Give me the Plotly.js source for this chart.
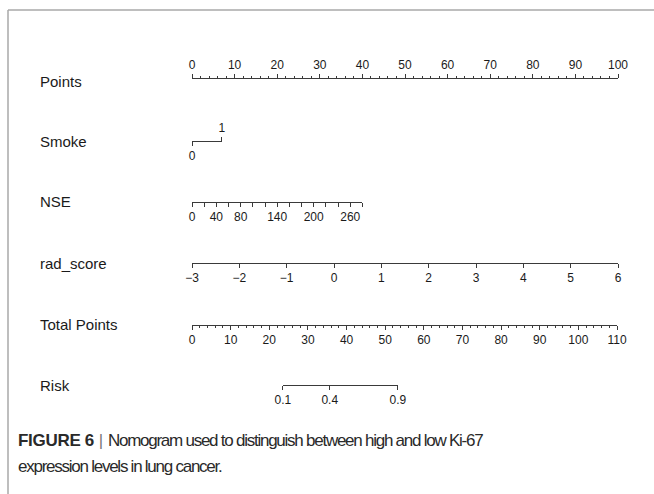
<!DOCTYPE html>
<html>
<head>
<meta charset="utf-8">
<script src="https://cdn.plot.ly/plotly-3.0.1.min.js"></script>
<style>html,body{margin:0;padding:0;background:#fff;}#chart{width:654px;height:494px;}</style>
</head>
<body>
<div id="chart"></div>
<script>
// ---- data ----
const rowLabels = ['Points', 'Smoke', 'NSE', 'rad_score', 'Total Points', 'Risk'];
const pointsRange = [0, 100];
const smokeLevels = [0, 1];
const smokePoints = [0, 7];            // points for smoke 0 and 1
const nseValues = [0, 20, 40, 60, 80, 100, 120, 140, 160, 180, 200, 220, 240, 260, 280];
const nseLabels = ['0', '', '40', '', '80', '', '', '140', '', '', '200', '', '', '260', ''];
const nsePoints = [0, 40];             // points for NSE 0 and 280
const radValues = [-3, -2, -1, 0, 1, 2, 3, 4, 5, 6];
const radPoints = [0, 100];            // points for rad_score -3 and 6
const totalRange = [0, 110];
const riskProbs = [0.1, 0.4, 0.9];
const riskTotal = [23.5, 53.3];        // total points at risk 0.1 and 0.9

// ---- layout constants ----
const W = 654, H = 494;
const axL = 192, axR = 618, totR = 617;
const rowY = [78, 141, 201.5, 263, 324.5, 385];
const labelX = 38;
const lineCol = '#3a3a3a';
const txtCol = '#1a1a1a';
const font = 'Liberation Sans, Arial, Helvetica, sans-serif';

const ppx = (axR - axL) / (pointsRange[1] - pointsRange[0]);
const dom = (p0, p1) => [(axL + p0 * ppx) / W, (axL + p1 * ppx) / W];
const tpx = (totR - axL) / (totalRange[1] - totalRange[0]);
const tdom = (t0, t1) => [(axL + t0 * tpx) / W, (axL + t1 * tpx) / W];
const pos = y => 1 - y / H;
const logit = p => Math.log(p / (1 - p));

const base = {
  anchor: 'free', showline: true, linecolor: lineCol, linewidth: 1,
  ticks: 'outside', ticklen: 4, tickwidth: 1, tickcolor: lineCol,
  showgrid: false, zeroline: false, fixedrange: true,
  tickfont: {family: font, size: 12, color: txtCol}
};

const layout = {
  width: W, height: H,
  margin: {l: 0, r: 0, t: 0, b: 0},
  paper_bgcolor: '#fff', plot_bgcolor: 'rgba(0,0,0,0)',
  showlegend: false,
  yaxis: {range: [0, 1], domain: [0, 1], visible: false, fixedrange: true},
  xaxis: Object.assign({}, base, {
    domain: dom(pointsRange[0], pointsRange[1]), range: pointsRange, position: pos(rowY[0]),
    side: 'top', tickmode: 'linear', tick0: 0, dtick: 10,
    minor: {dtick: 2, ticklen: 2, ticks: 'outside', tickcolor: lineCol}
  }),
  xaxis2: Object.assign({}, base, {
    domain: dom(smokePoints[0], smokePoints[1]), range: smokeLevels, position: pos(rowY[1]),
    side: 'bottom', tickmode: 'array', tickvals: [smokeLevels[0]], ticktext: [String(smokeLevels[0])]
  }),
  xaxis3: Object.assign({}, base, {
    domain: dom(smokePoints[0], smokePoints[1]), range: smokeLevels, position: pos(rowY[1]),
    side: 'top', tickmode: 'array', tickvals: [smokeLevels[1]], ticktext: [String(smokeLevels[1])]
  }),
  xaxis4: Object.assign({}, base, {
    domain: dom(nsePoints[0], nsePoints[1]), range: [nseValues[0], nseValues[nseValues.length - 1]],
    position: pos(rowY[2]), side: 'bottom', tickmode: 'array', tickvals: nseValues, ticktext: nseLabels
  }),
  xaxis5: Object.assign({}, base, {
    domain: dom(radPoints[0], radPoints[1]), range: [radValues[0], radValues[radValues.length - 1]],
    position: pos(rowY[3]), side: 'bottom', tickmode: 'array', tickvals: radValues
  }),
  xaxis6: Object.assign({}, base, {
    domain: tdom(totalRange[0], totalRange[1]), range: totalRange, position: pos(rowY[4]),
    side: 'bottom', tickmode: 'linear', tick0: 0, dtick: 10,
    minor: {dtick: 2, ticklen: 2, ticks: 'outside', tickcolor: lineCol}
  }),
  xaxis7: Object.assign({}, base, {
    domain: tdom(riskTotal[0], riskTotal[1]),
    range: [logit(riskProbs[0]), logit(riskProbs[riskProbs.length - 1])],
    position: pos(rowY[5]), side: 'bottom', tickmode: 'array',
    tickvals: riskProbs.map(logit), ticktext: riskProbs.map(String)
  }),
  annotations: [],
  shapes: [
    {type: 'line', xref: 'paper', yref: 'paper', x0: 8 / W, x1: 1, y0: pos(10), y1: pos(10),
     line: {color: '#a8a8a8', width: 1.5}},
    {type: 'line', xref: 'paper', yref: 'paper', x0: 8 / W, x1: 8 / W, y0: pos(10), y1: 0,
     line: {color: '#a8a8a8', width: 1.5}}
  ]
};

rowLabels.forEach((t, i) => {
  layout.annotations.push({
    text: t, xref: 'paper', yref: 'paper', x: labelX / W, y: pos(rowY[i] + (i === 0 ? 3 : 0)),
    xanchor: 'left', yanchor: 'middle', showarrow: false,
    font: {family: font, size: 15, color: txtCol}
  });
});

const capFont = 'Liberation Sans Narrow, Arial Narrow, Liberation Sans, sans-serif';
const sp = 'letter-spacing:-1.25px';
layout.annotations.push({
  text: '<span style="letter-spacing:-0.3px"><b>FIGURE 6</b></span> <span style="color:#777">|</span> <span style="' + sp + '">Nomogram used to distinguish between high and low Ki-67</span>',
  xref: 'paper', yref: 'paper', x: 16 / W, y: pos(440), xanchor: 'left', yanchor: 'middle',
  showarrow: false, font: {family: capFont, size: 17, color: '#2a2a2a'}
});
layout.annotations.push({
  text: '<span style="' + sp + '">expression levels in lung cancer.</span>',
  xref: 'paper', yref: 'paper', x: 16 / W, y: pos(466), xanchor: 'left', yanchor: 'middle',
  showarrow: false, font: {family: capFont, size: 17, color: '#2a2a2a'}
});

const axisRanges = [
  pointsRange, smokeLevels, smokeLevels,
  [nseValues[0], nseValues[nseValues.length - 1]],
  [radValues[0], radValues[radValues.length - 1]],
  totalRange,
  [logit(riskProbs[0]), logit(riskProbs[riskProbs.length - 1])]
];
const data = axisRanges.map((r, i) => ({
  type: 'scatter', mode: 'markers', x: r, y: [0.5, 0.5],
  xaxis: i === 0 ? 'x' : 'x' + (i + 1), yaxis: 'y',
  marker: {opacity: 0, size: 1}, hoverinfo: 'skip'
}));

Plotly.newPlot('chart', data, layout, {staticPlot: true, displayModeBar: false});
</script>
</body>
</html>
